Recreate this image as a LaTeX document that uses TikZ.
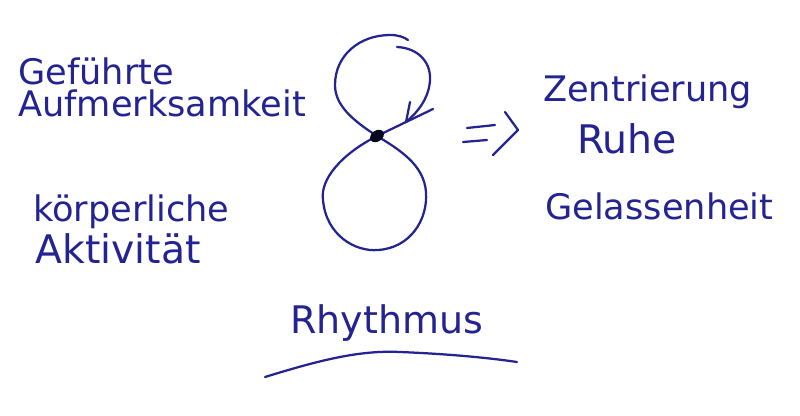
\documentclass[tikz,border=0pt]{standalone}
\usepackage{fontspec}
\newfontfamily\handfont{DejaVu Sans}
\definecolor{ink}{RGB}{35,35,145}

\begin{document}
\begin{tikzpicture}[x=0.025cm,y=-0.025cm]
\tikzstyle{every node}+=[inner sep=0pt]
\tikzstyle{word}=[anchor=base west,text=ink,font=\handfont\fontsize{25}{30}\selectfont]
\tikzstyle{pen}=[ink,line width=1.6pt,line cap=round,line join=round]
\useasboundingbox (0,0) rectangle (800,415);
\fill [white] (0,0) rectangle (800,415);
\node [word] (gefuehrte) at (18,84) {Geführte};
\node [word] (aufmerksamkeit) at (18,116) {Aufmerksamkeit};
\node [word] (koerperliche) at (33,221) {körperliche};
\node [word,font=\handfont\fontsize{28}{30}\selectfont] (aktivitaet) at (35,263) {Aktivität};
\node [word] (zentrierung) at (543,101) {Zentrierung};
\node [word,font=\handfont\fontsize{28}{30}\selectfont] (ruhe) at (577,153) {Ruhe};
\node [word] (gelassenheit) at (545,219) {Gelassenheit};
\node [word,font=\handfont\fontsize{27}{30}\selectfont] (rhythmus) at (290,333) {Rhythmus};
\coordinate (cross) at (377,136);
% upper loop
\draw [pen] (cross) .. controls (352,120) and (335,105) .. (335,85)
  .. controls (335,55) and (360,35) .. (390,35) .. controls (398,35) and (404,37) .. (408,40);
\draw [pen] (397,47) .. controls (418,48) and (431,62) .. (430,80)
  .. controls (429,98) and (418,112) .. (406,122);
\draw [pen] (cross) -- (433,109);
\draw [pen] (410,102) -- (406,122);
% lower loop
\draw [pen] (cross) .. controls (340,155) and (320,180) .. (323,200)
  .. controls (326,235) and (355,252) .. (378,250)
  .. controls (410,248) and (428,220) .. (426,192)
  .. controls (424,165) and (400,150) .. (cross);
\fill [black!80!ink,rotate around={35:(cross)}] (cross) ellipse (7.5 and 5.5);
% =>
\draw [pen] (467,128) -- (495,125);
\draw [pen] (463,142) -- (487,140);
\draw [pen] (505,112) -- (518,130) -- (493,155);
% underline
\draw [pen] (265,377) .. controls (320,360) and (360,350) .. (400,352)
  .. controls (450,354) and (490,358) .. (517,362);
\end{tikzpicture}
\end{document}
